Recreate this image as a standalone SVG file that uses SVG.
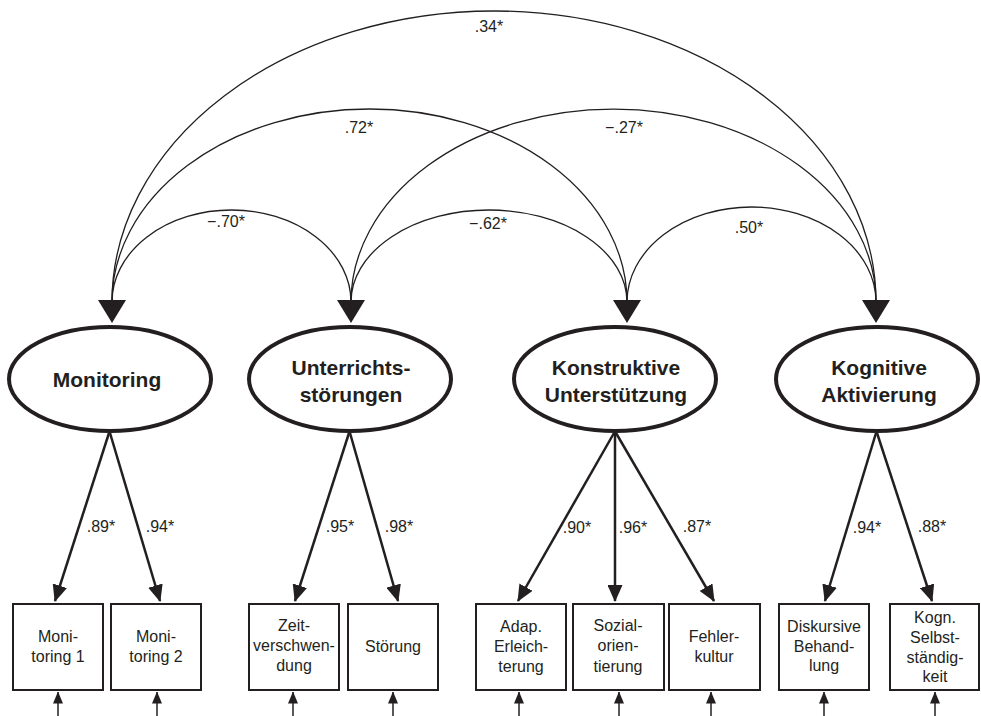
<svg xmlns="http://www.w3.org/2000/svg" width="981" height="716" viewBox="0 0 981 716">
  <defs>
    <style>
      .lat { fill: #fff; stroke: #231f20; stroke-width: 4; }
      .box { fill: #fff; stroke: #231f20; stroke-width: 2; }
      .lt { font-family: "Liberation Sans", Arial, sans-serif; font-size: 21px; font-weight: bold; fill: #231f20; text-anchor: middle; }
      .bt { font-family: "Liberation Sans", Arial, sans-serif; font-size: 16px; fill: #231f20; text-anchor: middle; }
      .lab { font-family: "Liberation Sans", Arial, sans-serif; font-size: 16px; fill: #231f20; text-anchor: middle; }
      .arc { fill: none; stroke: #231f20; stroke-width: 1.3; }
      .load { fill: none; stroke: #231f20; stroke-width: 2.5; }
      .res { fill: none; stroke: #231f20; stroke-width: 1.5; }
      .head { fill: #231f20; }
    </style>
    <marker id="ah" viewBox="0 0 17 15" markerUnits="userSpaceOnUse" markerWidth="17" markerHeight="15" refX="16" refY="7.5" orient="auto">
      <path d="M0,0 L17,7.5 L0,15 z" fill="#231f20"/>
    </marker>
    <marker id="sah" viewBox="0 0 12 10" markerUnits="userSpaceOnUse" markerWidth="12" markerHeight="10" refX="11.5" refY="5" orient="auto">
      <path d="M0,0 L12,5 L0,10 z" fill="#231f20"/>
    </marker>
  </defs>

  <g id="connectors">
    <!-- correlation arcs -->
    <path class="arc" d="M112,302 A119.5,92 0 0 1 351,302"/>
    <path class="arc" d="M112,302 A257.5,193 0 0 1 627,302"/>
    <path class="arc" d="M112,302 A382,291 0 0 1 876,302"/>
    <path class="arc" d="M351,302 A138,92 0 0 1 627,302"/>
    <path class="arc" d="M351,302 A262.5,193 0 0 1 876,302"/>
    <path class="arc" d="M627,302 A124.5,95 0 0 1 876,302"/>
    <polygon class="head" points="98,300 126,300 112,323"/>
    <polygon class="head" points="337,300 365,300 351,323"/>
    <polygon class="head" points="613,300 641,300 627,323"/>
    <polygon class="head" points="862,300 890,300 876,323"/>
    <!-- correlation labels -->
    <text class="lab" x="489" y="32">.34*</text>
    <text class="lab" x="359" y="133">.72*</text>
    <text class="lab" x="624" y="133">−.27*</text>
    <text class="lab" x="226" y="227">−.70*</text>
    <text class="lab" x="488" y="229">−.62*</text>
    <text class="lab" x="749" y="233">.50*</text>
    <!-- loadings -->
    <line class="load" x1="109" y1="433" x2="55" y2="601" marker-end="url(#ah)"/>
    <line class="load" x1="110" y1="433" x2="160" y2="601" marker-end="url(#ah)"/>
    <line class="load" x1="349" y1="433" x2="295" y2="601" marker-end="url(#ah)"/>
    <line class="load" x1="350" y1="433" x2="398" y2="601" marker-end="url(#ah)"/>
    <line class="load" x1="614" y1="433" x2="518" y2="601" marker-end="url(#ah)"/>
    <line class="load" x1="615" y1="433" x2="615" y2="601" marker-end="url(#ah)"/>
    <line class="load" x1="616" y1="433" x2="714" y2="601" marker-end="url(#ah)"/>
    <line class="load" x1="876" y1="433" x2="825" y2="601" marker-end="url(#ah)"/>
    <line class="load" x1="877" y1="433" x2="932" y2="601" marker-end="url(#ah)"/>
    <text class="lab" x="101" y="532">.89*</text>
    <text class="lab" x="160" y="532">.94*</text>
    <text class="lab" x="340" y="532">.95*</text>
    <text class="lab" x="399" y="532">.98*</text>
    <text class="lab" x="577" y="533">.90*</text>
    <text class="lab" x="633" y="533">.96*</text>
    <text class="lab" x="697" y="532">.87*</text>
    <text class="lab" x="867" y="533">.94*</text>
    <text class="lab" x="932" y="532">.88*</text>
    <!-- residual arrows -->
    <line class="res" x1="58" y1="716" x2="58" y2="692" marker-end="url(#sah)"/>
    <line class="res" x1="157" y1="716" x2="157" y2="692" marker-end="url(#sah)"/>
    <line class="res" x1="293" y1="716" x2="293" y2="692" marker-end="url(#sah)"/>
    <line class="res" x1="393" y1="716" x2="393" y2="692" marker-end="url(#sah)"/>
    <line class="res" x1="519" y1="716" x2="519" y2="692" marker-end="url(#sah)"/>
    <line class="res" x1="619" y1="716" x2="619" y2="692" marker-end="url(#sah)"/>
    <line class="res" x1="711" y1="716" x2="711" y2="692" marker-end="url(#sah)"/>
    <line class="res" x1="824" y1="716" x2="824" y2="692" marker-end="url(#sah)"/>
    <line class="res" x1="935" y1="716" x2="935" y2="692" marker-end="url(#sah)"/>
  </g>

  <g id="monitoring">
    <ellipse class="lat" cx="110" cy="379" rx="101" ry="52"/>
    <text class="lt" x="107" y="387">Monitoring</text>
  </g>
  <g id="unterrichtsstoerungen">
    <ellipse class="lat" cx="350" cy="379" rx="101" ry="52"/>
    <text class="lt" x="351" y="375">Unterrichts-</text>
    <text class="lt" x="351" y="402">störungen</text>
  </g>
  <g id="konstruktive-unterstuetzung">
    <ellipse class="lat" cx="615" cy="379" rx="101" ry="52"/>
    <text class="lt" x="616" y="375">Konstruktive</text>
    <text class="lt" x="616" y="402">Unterstützung</text>
  </g>
  <g id="kognitive-aktivierung">
    <ellipse class="lat" cx="877" cy="379" rx="101" ry="52"/>
    <text class="lt" x="879" y="375">Kognitive</text>
    <text class="lt" x="879" y="402">Aktivierung</text>
  </g>

  <g id="monitoring1">
    <rect class="box" x="13" y="604" width="90" height="86"/>
    <text class="bt" x="58" y="642">Moni-</text>
    <text class="bt" x="58" y="662">toring 1</text>
  </g>
  <g id="monitoring2">
    <rect class="box" x="111" y="604" width="90" height="86"/>
    <text class="bt" x="156" y="642">Moni-</text>
    <text class="bt" x="156" y="662">toring 2</text>
  </g>
  <g id="zeitverschwendung">
    <rect class="box" x="249" y="604" width="90" height="86"/>
    <text class="bt" x="294" y="631">Zeit-</text>
    <text class="bt" x="294" y="651">verschwen-</text>
    <text class="bt" x="294" y="671">dung</text>
  </g>
  <g id="stoerung">
    <rect class="box" x="348" y="604" width="90" height="86"/>
    <text class="bt" x="393" y="652">Störung</text>
  </g>
  <g id="adap-erleichterung">
    <rect class="box" x="476" y="604" width="90" height="86"/>
    <text class="bt" x="521" y="632">Adap.</text>
    <text class="bt" x="521" y="652">Erleich-</text>
    <text class="bt" x="521" y="672">terung</text>
  </g>
  <g id="sozialorientierung">
    <rect class="box" x="573" y="604" width="91" height="86"/>
    <text class="bt" x="618" y="631">Sozial-</text>
    <text class="bt" x="618" y="651">orien-</text>
    <text class="bt" x="618" y="672">tierung</text>
  </g>
  <g id="fehlerkultur">
    <rect class="box" x="669" y="604" width="91" height="86"/>
    <text class="bt" x="714" y="642">Fehler-</text>
    <text class="bt" x="714" y="662">kultur</text>
  </g>
  <g id="diskursive-behandlung">
    <rect class="box" x="779" y="604" width="90" height="86"/>
    <text class="bt" x="824" y="632">Diskursive</text>
    <text class="bt" x="824" y="652">Behand-</text>
    <text class="bt" x="824" y="671">lung</text>
  </g>
  <g id="kogn-selbststaendigkeit">
    <rect class="box" x="890" y="604" width="89" height="86"/>
    <text class="bt" x="935" y="623">Kogn.</text>
    <text class="bt" x="935" y="643">Selbst-</text>
    <text class="bt" x="935" y="663">ständig-</text>
    <text class="bt" x="935" y="682">keit</text>
  </g>
</svg>
